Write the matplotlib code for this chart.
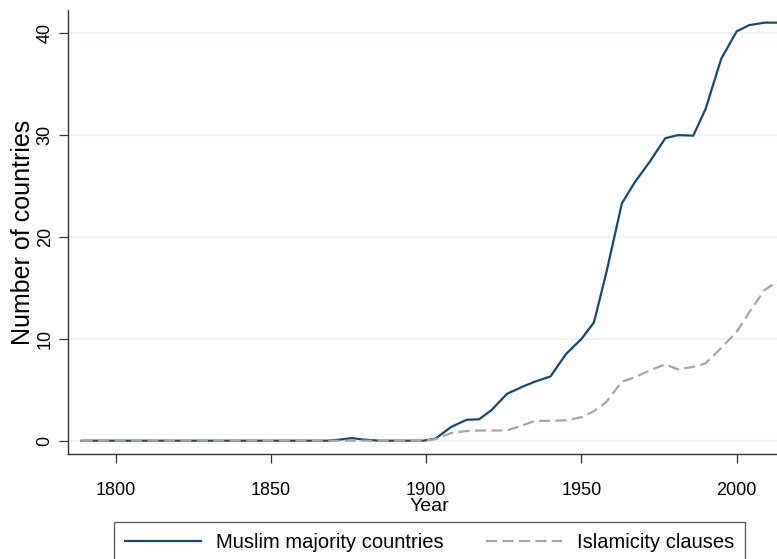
import matplotlib
matplotlib.use("Agg")
import matplotlib.pyplot as plt

# values
years = [1789, 1868, 1872, 1876, 1880, 1885, 1899, 1903, 1908, 1913, 1917,
         1921, 1926, 1931, 1935, 1940, 1945, 1950, 1954, 1958, 1963, 1967,
         1972, 1977, 1981, 1986, 1990, 1995, 2000, 2004, 2009, 2014]
muslim_majority = [0, 0, 0.1, 0.25, 0.1, 0, 0, 0.2, 1.35, 2.05, 2.1,
                   3.0, 4.6, 5.3, 5.8, 6.3, 8.5, 10.0, 11.6, 16.5, 23.3, 25.3,
                   27.4, 29.7, 30.0, 29.95, 32.6, 37.5, 40.2, 40.8, 41.05, 41.05]
islamicity = [0, 0, 0, 0, 0, 0, 0, 0.15, 0.75, 0.95, 1.0,
              1.0, 1.0, 1.5, 1.95, 1.95, 2.0, 2.3, 2.9, 3.8, 5.8, 6.2,
              6.9, 7.5, 7.0, 7.25, 7.6, 9.1, 10.7, 12.6, 14.8, 15.8]

x_ticks = [1800, 1850, 1900, 1950, 2000]
y_ticks = [0, 10, 20, 30, 40]

plt.rcParams['font.family'] = ['Liberation Sans', 'DejaVu Sans']

fig = plt.figure(figsize=(7.77, 5.59), dpi=100)
ax = fig.add_axes([0.0879, 0.1878, 0.929, 0.7943])

ax.plot(years, muslim_majority, color='#1a476f', lw=1.6,
        label='Muslim majority countries')
ax.plot(years, islamicity, color='#a5a5a5', lw=1.6, dashes=(5, 2.4),
        label='Islamicity clauses')

ax.set_xlim(1784.7, 2017.2)
ax.set_ylim(-1.31, 42.29)
ax.set_xticks(x_ticks)
ax.set_yticks(y_ticks)
ax.yaxis.grid(True, color='#eaf2f3', lw=1.1)
ax.set_axisbelow(True)

for side in ['top', 'right']:
    ax.spines[side].set_visible(False)
for side in ['left', 'bottom']:
    ax.spines[side].set_color('#333333')
    ax.spines[side].set_linewidth(1.0)

ax.tick_params(axis='x', direction='out', length=6.5, width=0.9,
               color='#333333', labelsize=13, pad=14)
ax.tick_params(axis='y', direction='out', length=6.5, width=0.9,
               color='#333333', labelsize=13, pad=4, labelrotation=90)
for lbl in ax.get_yticklabels():
    lbl.set_va('center')

ax.set_xlabel('Year', fontsize=14)
ax.xaxis.set_label_coords(0.5, -0.1)
ax.set_ylabel('Number of countries', fontsize=18, labelpad=1)

fig.legend(loc='upper center', bbox_to_anchor=(429.4 / 777, 1 - 521.7 / 559),
           ncol=2, fontsize=14.5, frameon=True, fancybox=False,
           edgecolor='#333333', handlelength=3.8, handletextpad=0.72,
           columnspacing=2.1, borderpad=0.55, borderaxespad=0)

fig.savefig('out.png', dpi=100, facecolor='white')
